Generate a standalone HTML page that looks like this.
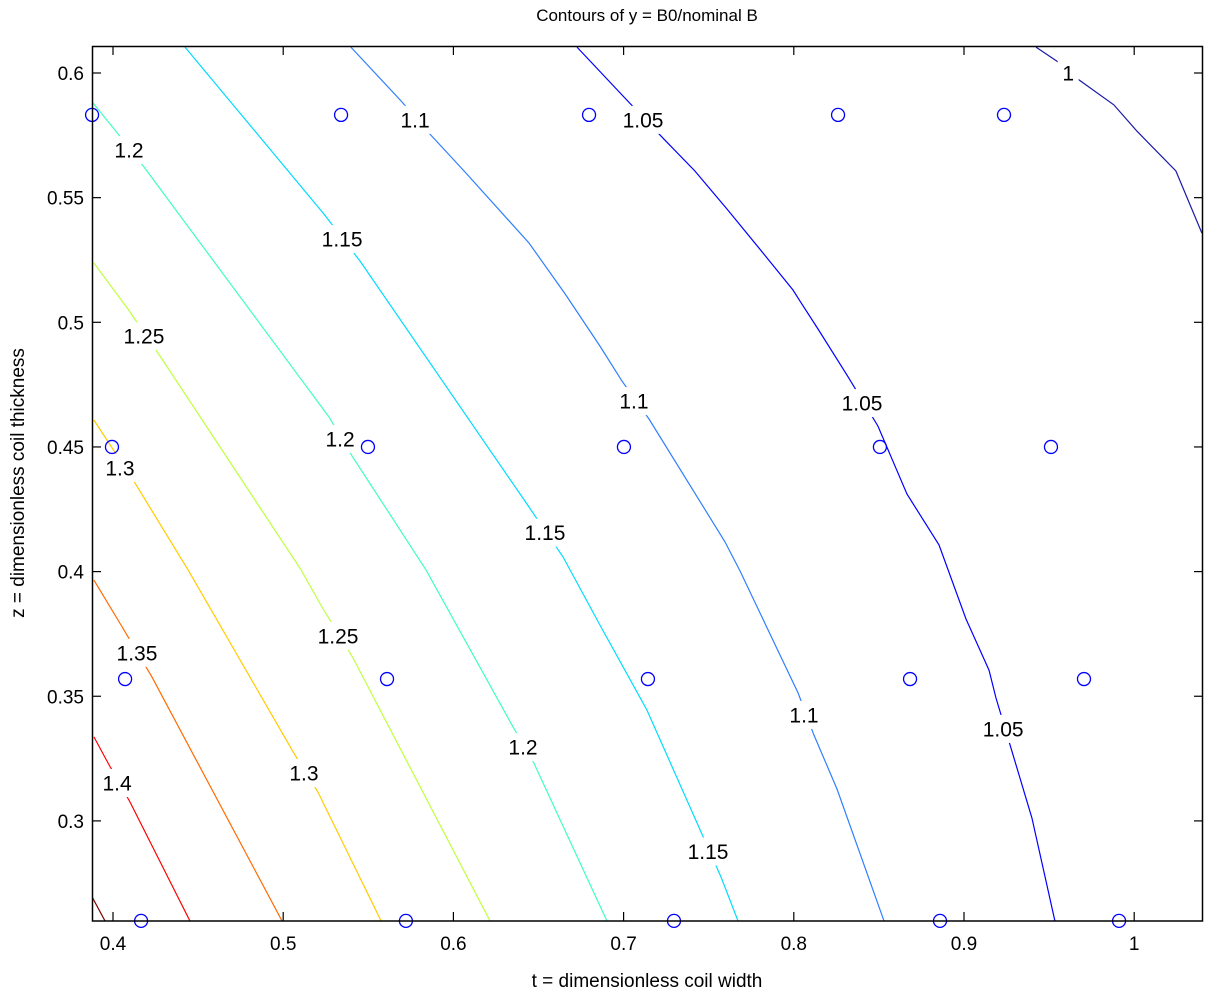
<!DOCTYPE html>
<html><head><meta charset="utf-8"><style>
html,body{margin:0;padding:0;background:#fff;}
svg{display:block;font-family:"Liberation Sans",Arial,sans-serif;}
</style></head><body>
<svg id="chart" width="1226" height="1008">
<defs><clipPath id="clip"><rect x="92" y="46" width="1111" height="875"/></clipPath></defs>
<rect x="0" y="0" width="1226" height="1008" fill="#fff"/>
<text x="647" y="21" text-anchor="middle" font-size="17">Contours of y = B0/nominal B</text>
<g id="contours" clip-path="url(#clip)"></g>
<g id="labels"></g>
<g id="points"></g>
<rect x="92.5" y="46.5" width="1110" height="874.5" fill="none" stroke="#000" stroke-width="1.5"/>
<g id="axes"></g>
<text x="647" y="987" text-anchor="middle" font-size="19">t = dimensionless coil width</text>
<text transform="translate(24,483) rotate(-90)" text-anchor="middle" font-size="19">z = dimensionless coil thickness</text>
</svg>
<script>
const levels = [1.0, 1.05, 1.1, 1.15, 1.2, 1.25, 1.3, 1.35, 1.4, 1.45];
const colors = ['#1a1aa8','#0000ff','#2f7fff','#00dcff','#40ffbf','#bfff40','#ffcc00','#ff6a00','#ff0000','#800000'];
const line100 = [[0.9423,0.6104],[0.9605,0.6020],[0.9652,0.5984],[0.9881,0.5872],[1.0016,0.5767],[1.0245,0.5607],[1.0398,0.5358]];
const line105 = [[0.6726,0.6104],[0.6996,0.5908],[0.7237,0.5735],[0.7419,0.5607],[0.7613,0.5450],[0.7819,0.5278],[0.7995,0.5130],[0.8036,0.5086],[0.8142,0.4973],[0.8312,0.4789],[0.8494,0.4584],[0.8665,0.4311],[0.8853,0.4107],[0.9012,0.3810],[0.9147,0.3605],[0.9188,0.3493],[0.9288,0.3265],[0.9399,0.3012],[0.9534,0.2599]];
const line110 = [[0.5398,0.6104],[0.5692,0.5888],[0.5868,0.5751],[0.6068,0.5603],[0.6444,0.5318],[0.6656,0.5114],[0.6861,0.4905],[0.6990,0.4765],[0.7149,0.4612],[0.7596,0.4119],[0.7684,0.4003],[0.7913,0.3674],[0.8025,0.3513],[0.8118,0.3345],[0.8254,0.3128],[0.8530,0.2599]];
const line115 = [[0.4423,0.6104],[0.5240,0.5434],[0.5451,0.5246],[0.6444,0.4259],[0.6644,0.4059],[0.6861,0.3786],[0.7137,0.3445],[0.7431,0.2992],[0.7572,0.2775],[0.7672,0.2599]];
const line120 = [[0.3882,0.5880],[0.4012,0.5771],[0.4182,0.5623],[0.5269,0.4620],[0.5404,0.4464],[0.5839,0.4007],[0.6344,0.3385],[0.6473,0.3232],[0.6902,0.2599]];
const line125 = [[0.3888,0.5238],[0.4088,0.5053],[0.4276,0.4865],[0.5105,0.4007],[0.5228,0.3858],[0.5410,0.3654],[0.6215,0.2599]];
const line130 = [[0.3888,0.4608],[0.4129,0.4355],[0.4441,0.4007],[0.5058,0.3277],[0.5204,0.3116],[0.5575,0.2599]];
const line135 = [[0.3888,0.3966],[0.4047,0.3786],[0.4229,0.3577],[0.4993,0.2599]];
const line140 = [[0.3888,0.3337],[0.3971,0.3232],[0.4100,0.3076],[0.4452,0.2599]];
const line145 = [[0.3877,0.2695],[0.3953,0.2599]];
const labelText = ['1','1.05','1.05','1.05','1.1','1.1','1.1','1.15','1.15','1.15','1.2','1.2','1.2','1.25','1.25','1.3','1.3','1.35','1.4'];
const labelT = [0.9612,0.7114,0.8401,0.9230,0.5775,0.7061,0.8060,0.5346,0.6538,0.7496,0.4094,0.5334,0.6409,0.4182,0.5322,0.4041,0.5122,0.4141,0.4024];
const labelZ = [0.6000,0.5812,0.4676,0.3369,0.5812,0.4684,0.3425,0.5334,0.4156,0.2877,0.5691,0.4532,0.3296,0.4945,0.3742,0.4416,0.3192,0.3674,0.3152];
const pointT = [0.3877,0.5340,0.6797,0.8260,0.9235,0.3994,0.5498,0.7002,0.8506,0.9511,0.4071,0.5610,0.7143,0.8683,0.9705,0.4165,0.5721,0.7296,0.8859,0.9911];
const pointZ = [0.5832,0.5832,0.5832,0.5832,0.5832,0.4500,0.4500,0.4500,0.4500,0.4500,0.3569,0.3569,0.3569,0.3569,0.3569,0.2599,0.2599,0.2599,0.2599,0.2599];
const xTicks = [0.4,0.5,0.6,0.7,0.8,0.9,1];
const yTicks = [0.3,0.35,0.4,0.45,0.5,0.55,0.6];
const xTickLabels = ['0.4','0.5','0.6','0.7','0.8','0.9','1'];
const yTickLabels = ['0.3','0.35','0.4','0.45','0.5','0.55','0.6'];

const NS='http://www.w3.org/2000/svg';
function xs(t){return 113+(t-0.4)*1702;}
function ys(z){return 73+(0.6-z)*2493;}
function mk(tag,attrs,parent){const e=document.createElementNS(NS,tag);for(const k in attrs)e.setAttribute(k,attrs[k]);parent.appendChild(e);return e;}

const lines=[line100,line105,line110,line115,line120,line125,line130,line135,line140,line145];
const gC=document.getElementById('contours');
lines.forEach((ln,i)=>{
  const p=mk('polyline',{points:ln.map(d=>xs(d[0]).toFixed(1)+','+ys(d[1]).toFixed(1)).join(' '),fill:'none',stroke:colors[i],'stroke-width':1.2},gC);
  
  
});
const gL=document.getElementById('labels');
labelText.forEach((s,i)=>{
  const x=xs(labelT[i]),y=ys(labelZ[i]);
  const r=mk('rect',{x:x-s.length*6.5-4,y:y-14,width:s.length*13+8,height:28,fill:'#fff'},gL);
  
  
  const t=mk('text',{x:x,y:y+7.5,'text-anchor':'middle','font-size':21},gL);
  t.textContent=s;
  
  
});
const gP=document.getElementById('points');
pointT.forEach((t,i)=>{
  const c=mk('circle',{cx:xs(t),cy:ys(pointZ[i]),r:6.5,fill:'none',stroke:'#0000ff','stroke-width':1.3},gP);
  
  
});
const gA=document.getElementById('axes');
xTicks.forEach((t,i)=>{
  const x=xs(t);
  mk('line',{x1:x,y1:921,x2:x,y2:912,stroke:'#000','stroke-width':1.2},gA);
  mk('line',{x1:x,y1:46,x2:x,y2:55,stroke:'#000','stroke-width':1.2},gA);
  const tx=mk('text',{x:x,y:950,'text-anchor':'middle','font-size':19},gA);
  tx.textContent=xTickLabels[i];
  
  
});
yTicks.forEach((z,i)=>{
  const y=ys(z);
  mk('line',{x1:92,y1:y,x2:101,y2:y,stroke:'#000','stroke-width':1.2},gA);
  mk('line',{x1:1203,y1:y,x2:1194,y2:y,stroke:'#000','stroke-width':1.2},gA);
  const ty=mk('text',{x:84,y:y+7,'text-anchor':'end','font-size':19},gA);
  ty.textContent=yTickLabels[i];
  
  
});
</script>
</body></html>
